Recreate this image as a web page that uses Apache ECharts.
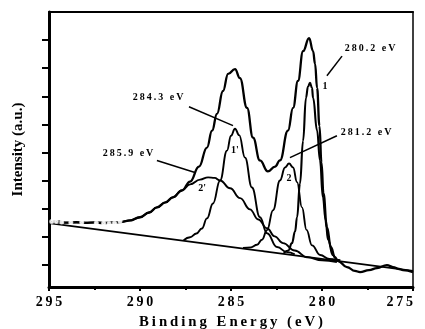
<!DOCTYPE html>
<html>
<head>
<meta charset="utf-8">
<script src="https://cdn.jsdelivr.net/npm/echarts@6/dist/echarts.min.js"></script>
<style>
html,body{margin:0;padding:0;background:#fff;}
#chart{width:425px;height:329px;}
</style>
</head>
<body>
<div id="chart"></div>
<script>
// ---- data ----
const energyTicks = [275, 280, 285, 290, 295];
const intensityTicks = [0, 1, 2, 3, 4, 5, 6, 7, 8];

const baseline = [[295, 1.49], [275, -0.21]];

const envelope = [
  [295, 1.52], [294.5, 1.55], [294, 1.51], [293.5, 1.53], [293, 1.50], [292.5, 1.52],
  [292, 1.49], [291.5, 1.51], [291.1, 1.53], [290.6, 1.58], [290.0, 1.70], [289.5, 1.87],
  [289.07, 2.05], [288.6, 2.23], [288.19, 2.41], [287.7, 2.65], [287.25, 2.97], [286.76, 3.50],
  [286.32, 4.18], [286.04, 4.78], [285.77, 5.38], [285.44, 6.19], [285.16, 6.80], [284.78, 6.97],
  [284.51, 6.65], [284.12, 5.59], [283.79, 4.53], [283.41, 3.72], [282.97, 3.33], [282.58, 3.50],
  [282.31, 3.72], [281.87, 4.78], [281.59, 5.59], [281.32, 6.55], [281.04, 7.61], [280.71, 8.07],
  [280.49, 7.61], [280.38, 7.15], [280.27, 6.30], [280.14, 4.95], [280.03, 3.65], [279.92, 2.55],
  [279.73, 1.35], [279.51, 0.64], [279.29, 0.28], [279.12, 0.14], [278.63, -0.07], [278.19, -0.21],
  [277.91, -0.25], [277.42, -0.18], [276.98, -0.11], [276.43, 0.00], [276.10, -0.07], [275.77, -0.14],
  [275.55, -0.18], [275.0, -0.25]
];

// component 1 (280.2 eV)
const peak1 = [
  [282.1, 0.43], [281.85, 0.52], [281.65, 0.78], [281.48, 1.20], [281.37, 1.70], [281.21, 2.90],
  [281.04, 4.42], [280.88, 5.95], [280.77, 6.35], [280.66, 6.48], [280.55, 6.30], [280.49, 5.95],
  [280.27, 4.78], [280.11, 3.72], [279.95, 2.41], [279.80, 1.60], [279.67, 0.90], [279.40, 0.35],
  [279.18, 0.19], [279.0, 0.17]
];
// component 2 (281.2 eV)
const peak2 = [
  [284.34, 0.61], [283.9, 0.63], [283.57, 0.72], [283.3, 0.90], [283.02, 1.24], [282.69, 1.95],
  [282.31, 3.01], [282.03, 3.47], [281.81, 3.61], [281.59, 3.47], [281.37, 2.95], [281.1, 2.05],
  [280.85, 1.25], [280.55, 0.70], [280.1, 0.36], [279.6, 0.22], [279.18, 0.17]
];
// component 1' (284.3 eV)
const peak1p = [
  [287.6, 0.88], [287.25, 0.99], [286.9, 1.12], [286.6, 1.30], [286.32, 1.66], [285.99, 2.19],
  [285.60, 3.01], [285.22, 4.07], [285.0, 4.60], [284.78, 4.85], [284.55, 4.62], [284.23, 3.82],
  [283.85, 2.76], [283.41, 1.70], [283.02, 1.13], [282.47, 0.64], [281.92, 0.46], [281.5, 0.38]
];
// component 2' (285.9 eV)
const peak2p = [
  [295, 1.52], [294, 1.51], [293, 1.51], [292, 1.51], [291.1, 1.53], [290.5, 1.60], [290.0, 1.70],
  [289.5, 1.87], [289.07, 2.05], [288.6, 2.23], [288.19, 2.41], [287.7, 2.66], [287.25, 2.87],
  [286.70, 3.04], [286.26, 3.12], [285.9, 3.10], [285.60, 3.01], [285.05, 2.73], [284.5, 2.38],
  [283.96, 1.98], [283.5, 1.62], [283.02, 1.31], [282.6, 1.02], [282.14, 0.78], [281.5, 0.52],
  [280.82, 0.28], [280.0, 0.17], [279.18, 0.11]
];
// raw data markers visible on the left
const rawPoints = [
  [294.85, 1.55], [294.6, 1.55], [294.3, 1.53], [293.8, 1.51], [293.2, 1.52], [292.4, 1.50],
  [292.0, 1.49], [291.7, 1.48], [291.4, 1.50], [291.1, 1.56]
];

const peakLabels = ['280.2 eV', '281.2 eV', '284.3 eV', '285.9 eV'];
const peakNames = ['1', '2', "1'", "2'"];

// ---- helpers ----
const sp = s => Array.from(s).join('\u2009');
const FONT = 'Liberation Serif';
const curve = (data, w) => ({
  type: 'line', data, showSymbol: false, symbol: 'none', smooth: 0.45, smoothMonotone: 'x',
  lineStyle: { color: '#000', width: w }, silent: true, z: 3
});

const chart = echarts.init(document.getElementById('chart'), null, { renderer: 'canvas' });

const textPt = (coord, txt, size) => ({
  coord, value: txt,
  label: { show: true, position: 'inside', formatter: txt, color: '#000', fontFamily: FONT,
           fontWeight: 'bold', fontSize: size }
});

const option = {
  backgroundColor: '#fff',
  animation: false,
  grid: { left: 49, right: 12, top: 12, bottom: 42, containLabel: false, outerBoundsMode: 'none' },
  xAxis: [{
    type: 'value', inverse: true, min: 275, max: 295, interval: 5,
    axisLine: { onZero: false, lineStyle: { color: '#000', width: 3 } },
    axisTick: { show: true, inside: false, length: 4, lineStyle: { color: '#000', width: 2 } },
    minorTick: { show: true, splitNumber: 2, length: 3, lineStyle: { color: '#000', width: 2 } },
    splitLine: { show: false },
    axisLabel: {
      color: '#000', fontFamily: FONT, fontWeight: 'bold', fontSize: 14, margin: 8,
      alignMinLabel: 'right',
      formatter: v => energyTicks.includes(v) ? sp(String(v)) : ''
    },
    name: sp('Binding Energy (eV)'), nameLocation: 'middle', nameGap: 28,
    nameTextStyle: { color: '#000', fontFamily: FONT, fontWeight: 'bold', fontSize: 14.8 }
  }, {
    type: 'value', inverse: true, min: 275, max: 295, position: 'top',
    axisLine: { onZero: false, lineStyle: { color: '#000', width: 2 } },
    axisTick: { show: false }, axisLabel: { show: false }, splitLine: { show: false }
  }],
  yAxis: [{
    type: 'value', min: -0.78, max: 9,
    axisLine: { show: true, onZero: false, lineStyle: { color: '#000', width: 3 } },
    axisTick: { show: true, inside: false, length: 7, customValues: intensityTicks,
                lineStyle: { color: '#000', width: 2 } },
    axisLabel: { show: false }, splitLine: { show: false },
    name: 'Intensity (a.u.)', nameLocation: 'middle', nameGap: 23, nameRotate: 90,
    nameTextStyle: { color: '#000', fontFamily: FONT, fontWeight: 'bold', fontSize: 15 }
  }, {
    type: 'value', min: -0.78, max: 9, position: 'right',
    axisLine: { show: true, onZero: false, lineStyle: { color: '#000', width: 1.5 } },
    axisTick: { show: false }, axisLabel: { show: false }, splitLine: { show: false }
  }],
  series: [
    Object.assign(curve(baseline, 1.8), {
      markLine: {
        silent: true, symbol: 'none', label: { show: false },
        lineStyle: { color: '#000', width: 1.5, type: 'solid' },
        data: [
          [{ coord: [278.90, 7.43] }, { coord: [279.73, 6.73] }],
          [{ coord: [279.18, 4.60] }, { coord: [281.76, 3.82] }],
          [{ coord: [287.31, 5.63] }, { coord: [284.89, 4.96] }],
          [{ coord: [289.07, 3.72] }, { coord: [286.98, 3.29] }]
        ]
      },
      markPoint: {
        silent: true, symbol: 'circle', symbolSize: 1, itemStyle: { color: 'rgba(0,0,0,0)' },
        data: [
          textPt([277.36, 7.72], sp(peakLabels[0]), 10),
          textPt([277.58, 4.71], sp(peakLabels[1]), 10),
          textPt([289.01, 5.95], sp(peakLabels[2]), 10),
          textPt([290.66, 3.96], sp(peakLabels[3]), 10),
          textPt([279.84, 6.34], peakNames[0], 10),
          textPt([281.81, 3.08], peakNames[1], 10),
          textPt([284.78, 4.07], peakNames[2], 10),
          textPt([286.59, 2.73], peakNames[3], 10)
        ]
      }
    }),
    curve(envelope, 2.3),
    curve(peak1, 2.1),
    curve(peak2, 1.9),
    curve(peak1p, 1.9),
    curve(peak2p, 1.9),
    {
      type: 'scatter', data: rawPoints, symbol: 'emptyCircle', symbolSize: 3,
      itemStyle: { color: '#fff', borderColor: '#555', borderWidth: 1 }, silent: true, z: 4
    }
  ]
};
chart.setOption(option);
</script>
</body>
</html>
